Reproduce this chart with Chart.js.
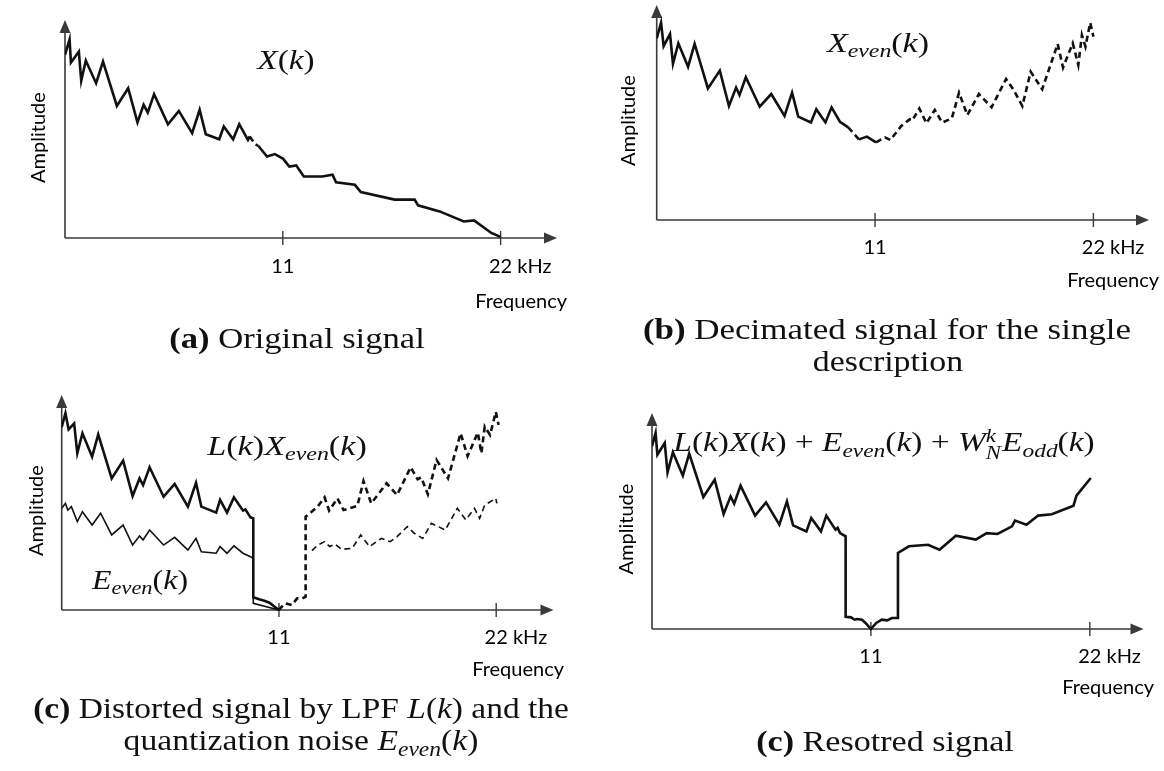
<!DOCTYPE html>
<html>
<head>
<meta charset="utf-8">
<script src="https://cdn.jsdelivr.net/npm/chart.js@4.4.1/dist/chart.umd.min.js"></script>
<style>
html,body{margin:0;padding:0;background:#fff;}
#wrap{position:relative;width:1164px;height:771px;overflow:hidden;background:#fff;}
canvas{position:absolute;left:0;top:0;}
.t{position:absolute;white-space:nowrap;transform:translate(-50%,-50%);font-family:"Liberation Serif","DejaVu Serif",serif;color:#111;line-height:1.1;}
.t i{font-style:italic;}
.t b{font-weight:bold;}
.t sub{font-size:0.7em;vertical-align:-0.3em;line-height:0;}
.ss{display:inline-flex;flex-direction:column;font-size:0.68em;line-height:0.9;vertical-align:0.5em;font-style:italic;margin-right:1px;}
</style>
</head>
<body>
<div id="wrap">
<canvas id="chA" width="1164" height="771"></canvas>
<canvas id="chB" width="1164" height="771"></canvas>
<canvas id="chC" width="1164" height="771"></canvas>
<canvas id="chD" width="1164" height="771"></canvas>

<div class="t" data-w="57" style="left:286px;top:60px;font-size:28px"><i>X</i>(<i>k</i>)</div>
<div class="t" data-w="102" style="left:878px;top:43px;font-size:28px"><i>X</i><sub><i>even</i></sub>(<i>k</i>)</div>
<div class="t" data-w="160" style="left:287px;top:446px;font-size:28px"><i>L</i>(<i>k</i>)<i>X</i><sub><i>even</i></sub>(<i>k</i>)</div>
<div class="t" data-w="96" style="left:140px;top:580px;font-size:28px"><i>E</i><sub><i>even</i></sub>(<i>k</i>)</div>
<div class="t" data-w="421" style="left:884px;top:444px;font-size:28px"><i>L</i>(<i>k</i>)<i>X</i>(<i>k</i>) + <i>E</i><sub><i>even</i></sub>(<i>k</i>) + <i>W</i><span class="ss"><span>k</span><span>N</span></span><i>E</i><sub><i>odd</i></sub>(<i>k</i>)</div>

<div class="t" data-w="256" style="left:297px;top:337px;font-size:30px"><b>(a)</b> Original signal</div>
<div class="t" data-w="488" style="left:887px;top:328px;font-size:30px"><b>(b)</b> Decimated signal for the single</div>
<div class="t" data-w="150" style="left:888px;top:360px;font-size:30px">description</div>
<div class="t" data-w="536" style="left:301px;top:707px;font-size:30px"><b>(c)</b> Distorted signal by LPF <i>L</i>(<i>k</i>) and the</div>
<div class="t" data-w="355" style="left:301px;top:739px;font-size:30px">quantization noise <i>E</i><sub><i>even</i></sub>(<i>k</i>)</div>
<div class="t" data-w="258" style="left:885px;top:740px;font-size:30px"><b>(c)</b> Resotred signal</div>
</div>

<script>
// ---------------- data ----------------
const FREQ_TICKS = [11, 22];
const TICK_LABELS = ['11', '22 kHz'];
const X_TITLE = 'Frequency';
const Y_TITLE = 'Amplitude';

// (a) Original signal X(k)
const FREQ_A = [0,0.23,0.30,0.70,0.82,1.05,1.57,1.92,2.62,3.19,3.66,3.97,4.18,4.50,5.20,5.75,6.42,6.80,7.11,7.79,8.02,8.49,8.80,9.24,9.33,9.59,9.76,10.20,10.60,11.02,11.33,11.68,12.06,12.99,13.51,13.69,14.64,14.94,16.65,17.66,17.83,18.92,20.14,20.66,21.53,22.0];
const AMP_A  = [84.0,91.1,80.5,85.5,72.1,81.4,71.0,80.9,60.6,68.7,53.0,61.1,57.6,66.0,52.2,58.3,48.1,58.8,47.6,45.3,51.1,45.3,52.2,45.0,46.6,43.1,42.3,37.4,38.5,36.3,32.8,33.3,28.2,28.2,29.0,25.5,24.4,21.1,17.6,17.6,15.0,12.2,7.6,8.1,2.3,0.5];

// (b) Decimated signal X_even(k)
const FREQ_B = [0,0.22,0.35,0.67,0.82,1.09,1.58,1.91,2.58,3.18,3.64,4.00,4.17,4.49,5.19,5.77,6.44,6.82,7.13,7.77,8.04,8.50,8.81,9.23,9.65,10.19,10.59,11.05,11.50,11.77,12.32,12.74,12.87,13.23,13.59,14.01,14.38,14.87,15.23,15.65,16.23,16.87,17.60,17.96,18.42,18.84,19.42,20.20,20.47,20.96,21.24,21.42,21.60,21.84,22.0];
const AMP_B  = [84.5,91.8,80.9,86.5,72.6,82.2,71.3,81.9,61.2,69.5,53.0,61.6,58.1,66.4,52.7,58.6,48.4,59.2,48.1,45.4,51.5,45.4,52.4,45.7,43.1,37.5,38.8,36.1,38.4,37.2,43.7,46.8,46.2,51.9,45.0,51.2,45.3,47.3,59.2,48.8,58.6,52.4,65.6,60.8,53.0,69.0,60.8,81.9,70.9,82.2,72.1,86.0,80.6,91.8,85.3];

// (c) Distorted signal L(k)X_even(k)
const FREQ_C = [0,0.19,0.35,0.63,0.79,1.05,1.54,1.85,2.53,3.11,3.59,3.94,4.12,4.45,5.16,5.72,6.39,6.80,7.07,7.82,8.02,8.37,8.72,9.18,9.30,9.56,9.70,9.70,10.00,10.26,10.52,10.99,11.30,11.65,11.92,12.18,12.35,12.35,12.61,12.96,13.31,13.54,13.96,14.27,14.97,15.28,15.67,16.45,16.98,17.67,18.02,18.20,18.54,18.98,19.56,20.20,20.55,21.07,21.25,21.42,21.69,21.98,22.12];
const AMP_C  = [85.0,91.5,84.0,86.8,72.9,82.2,71.3,81.7,61.2,69.5,53.0,61.2,58.1,66.4,52.7,58.6,48.1,59.2,48.1,45.3,51.2,45.3,52.4,46.2,46.8,43.1,42.6,5.9,5.0,4.3,3.4,0,3.1,2.3,5.4,5.4,6.2,43.4,45.3,48.1,52.4,46.2,51.9,46.5,48.4,60.0,49.6,58.9,53.5,66.4,60.8,61.7,53.8,69.8,61.2,82.2,71.6,82.5,72.9,85.3,81.4,92.2,86.0];
// (c) quantization noise E_even(k): low band and high band
const FREQ_E_LOW = [0,0.19,0.31,0.49,0.79,1.05,1.54,1.97,2.53,3.11,3.59,3.94,4.12,4.45,5.16,5.72,6.39,6.80,7.07,7.82,8.02,8.37,8.72,9.18,9.56,9.70,9.70,11.0];
const AMP_E_LOW  = [47.3,49.6,46.5,48.1,41.1,45.7,39.5,45.0,34.9,39.5,30.2,34.4,32.6,37.2,30.2,33.8,27.9,33.3,27.1,26.4,29.5,26.4,29.8,26.4,24.8,24.0,3.1,0];
const FREQ_E_HIGH = [12.67,12.96,13.31,13.57,13.83,14.18,14.71,15.14,15.58,16.19,16.63,16.98,17.50,17.85,18.28,18.72,19.42,20.03,20.46,20.90,21.16,21.42,21.98,22.03];
const AMP_E_HIGH  = [27.6,30.2,31.8,29.5,30.7,28.2,28.7,34.9,29.5,33.3,31.8,34.1,38.8,35.7,33.3,40.3,37.2,47.3,41.9,47.3,42.6,48.8,51.9,49.6];

// (d) Restored signal
const FREQ_D = [0,0.18,0.27,0.64,0.78,1.05,1.55,1.87,2.58,3.15,3.60,3.95,4.13,4.45,5.18,5.73,6.40,6.78,7.09,7.76,8.00,8.49,8.76,9.22,9.33,9.45,9.73,9.73,10.00,10.18,10.31,10.55,10.73,11.00,11.27,11.55,11.82,12.05,12.36,12.36,12.91,13.87,14.45,15.27,16.27,16.82,17.36,18.09,18.24,18.82,19.40,20.09,21.18,21.33,22.05];
const AMP_D  = [84.6,90.7,80.7,86.1,72.5,81.8,71.0,81.2,61.1,69.1,53.2,61.4,58.0,66.4,52.5,58.6,48.3,59.1,48.0,45.2,51.4,45.2,52.5,46.0,46.8,44.4,42.9,5.6,5.4,4.3,4.6,4.3,2.8,0,2.8,4.3,4.0,5.1,5.1,35.2,38.3,39.0,36.7,43.2,41.4,44.4,44.0,47.5,50.2,48.3,52.5,53.1,57.1,61.7,69.9];

// ---------------- styling / layout ----------------
const W = 1164, H = 771;
const TICK_FONT = {family: 'Lato, "Open Sans", sans-serif', size: 20};
const LH = TICK_FONT.size * 1.2;
const LINE_COLOR = '#111';
const AXIS_COLOR = '#3a3a3a';
const DASH = [6, 4];

// panel geometry (page pixels)
const GEO = {
  a: {left: 65,    right: 567,  top: 20,  axisY: 238, kpx: 19.8,  arrowK: 24.85, ampX: 38.5, tickY: 267, freqY: 302},
  b: {left: 656.7, right: 1159, top: 5,   axisY: 220, kpx: 19.85, arrowK: 24.8,  ampX: 629,  tickY: 248, freqY: 281},
  c: {left: 61.7,  right: 564,  top: 395, axisY: 610, kpx: 19.75, arrowK: 24.9,  ampX: 37,   tickY: 638, freqY: 670},
  d: {left: 652,   right: 1154, top: 413, axisY: 629, kpx: 19.9,  arrowK: 24.7,  ampX: 627,  tickY: 657, freqY: 688}
};

const pts = (xs, ys) => xs.map((x, i) => ({x, y: ys[i]}));

const arrowAxes = {
  id: 'arrowAxes',
  beforeDatasetsDraw(chart, args, opts) {
    const {ctx, scales: {x, y}} = chart;
    const x0 = x.getPixelForValue(0), y0 = y.getPixelForValue(0);
    const xe = x.getPixelForValue(opts.arrowX), yt = y.getPixelForValue(100);
    ctx.save();
    ctx.strokeStyle = AXIS_COLOR; ctx.fillStyle = AXIS_COLOR; ctx.lineWidth = 1.6;
    ctx.beginPath();
    ctx.moveTo(x0, y0); ctx.lineTo(xe - 10, y0);
    ctx.moveTo(x0, y0); ctx.lineTo(x0, yt + 10);
    ctx.stroke();
    ctx.beginPath(); ctx.moveTo(xe, y0); ctx.lineTo(xe - 13, y0 - 5.5); ctx.lineTo(xe - 13, y0 + 5.5); ctx.closePath(); ctx.fill();
    ctx.beginPath(); ctx.moveTo(x0, yt); ctx.lineTo(x0 - 5.5, yt + 13); ctx.lineTo(x0 + 5.5, yt + 13); ctx.closePath(); ctx.fill();
    ctx.lineWidth = 1.4;
    x.ticks.forEach(t => {
      const px = x.getPixelForValue(t.value);
      ctx.beginPath(); ctx.moveTo(px, y0 - 7); ctx.lineTo(px, y0 + 7); ctx.stroke();
    });
    ctx.restore();
  }
};

// half width of a tick number, so that the number is centred on its tick
const mctx = document.createElement('canvas').getContext('2d');
mctx.font = TICK_FONT.size + 'px ' + TICK_FONT.family;
const HALF_NUM = mctx.measureText('11').width / 2;

function lineDs(data, extra) {
  return Object.assign({data, borderColor: LINE_COLOR, borderWidth: 2.6, pointRadius: 0, tension: 0, fill: false, borderJoinStyle: 'miter'}, extra || {});
}
const segDash = test => ({borderDash: ctx => test(ctx.p0.parsed.x, ctx.p1.parsed.x) ? DASH : undefined});

function makeChart(id, g, datasets) {
  const upx = (g.axisY - g.top) / 100;
  const bottom = g.tickY - LH / 2;
  const xMax = (g.right - g.left) / g.kpx;
  const yMin = -(bottom - g.axisY) / upx;
  const yW = g.left - g.ampX + LH / 2;
  const xH = g.freqY - bottom + LH / 2;
  return new Chart(document.getElementById(id), {
    type: 'line',
    data: {datasets},
    options: {
      responsive: false, animation: false, events: [],
      layout: {autoPadding: false, padding: {left: g.left - yW, top: g.top, right: W - g.right, bottom: H - bottom - xH}},
      plugins: {legend: {display: false}, tooltip: {enabled: false}, arrowAxes: {arrowX: g.arrowK}},
      scales: {
        x: {
          type: 'linear', min: 0, max: xMax,
          afterFit: s => { s.height = xH; },
          afterBuildTicks: s => { s.ticks = FREQ_TICKS.map(v => ({value: v})); },
          grid: {display: false, drawTicks: false}, border: {display: false},
          ticks: {align: 'start', labelOffset: -HALF_NUM, padding: 0, autoSkip: false, maxRotation: 0, color: '#000', font: TICK_FONT,
                  callback: (v, i) => TICK_LABELS[i]},
          title: {display: true, text: X_TITLE, align: 'end', padding: 0, color: '#000', font: TICK_FONT}
        },
        y: {
          type: 'linear', min: yMin, max: 100,
          afterFit: s => { s.width = yW; },
          grid: {display: false, drawTicks: false}, border: {display: false},
          ticks: {display: false},
          title: {display: true, text: Y_TITLE, padding: 0, color: '#000', font: TICK_FONT}
        }
      }
    },
    plugins: [arrowAxes]
  });
}

makeChart('chA', GEO.a, [
  lineDs(pts(FREQ_A, AMP_A), {label: 'X(k)', segment: segDash((a, b) => a >= 9.3 && b <= 9.8)})
]);
makeChart('chB', GEO.b, [
  lineDs(pts(FREQ_B, AMP_B), {label: 'X_even(k)', segment: segDash((a, b) => a >= 9.3 && !(a >= 10.1 && b <= 11.1))})
]);
makeChart('chC', GEO.c, [
  lineDs(pts(FREQ_C, AMP_C), {label: 'L(k)X_even(k)', segment: segDash((a, b) => a >= 10.95)}),
  lineDs(pts(FREQ_E_LOW, AMP_E_LOW), {label: 'E_even(k) low', borderWidth: 1.6}),
  lineDs(pts(FREQ_E_HIGH, AMP_E_HIGH), {label: 'E_even(k) high', borderWidth: 1.6, borderDash: DASH})
]);
makeChart('chD', GEO.d, [
  lineDs(pts(FREQ_D, AMP_D), {label: 'restored'})
]);

// fit serif labels to their measured widths
document.querySelectorAll('.t[data-w]').forEach(el => {
  const target = parseFloat(el.dataset.w);
  const w = el.offsetWidth;
  const k = target / w;
  el.style.transform = 'translate(-50%,-50%) scaleX(' + k.toFixed(3) + ')';
});
</script>
</body>
</html>
